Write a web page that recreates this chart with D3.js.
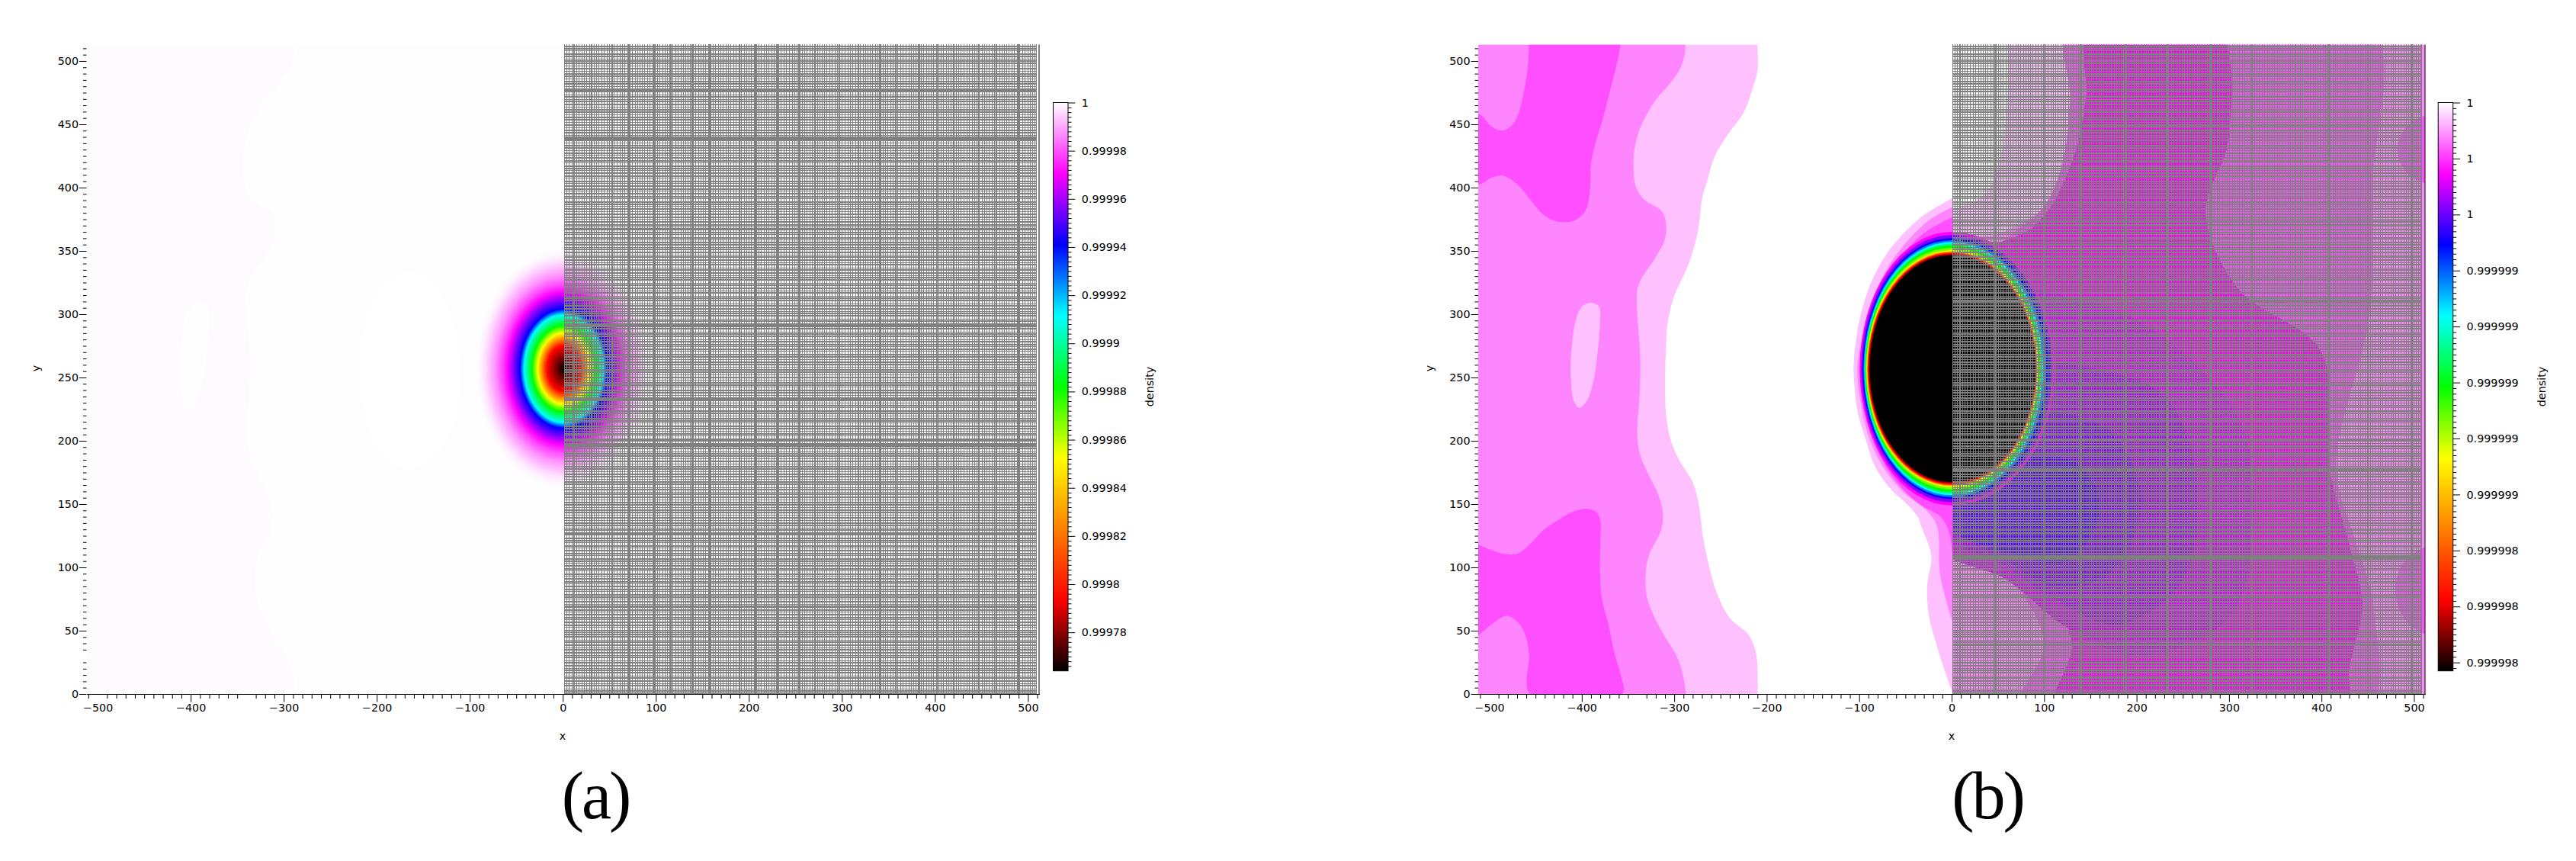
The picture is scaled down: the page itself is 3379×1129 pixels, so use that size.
<!DOCTYPE html>
<html>
<head>
<meta charset="utf-8">
<script src="https://cdn.jsdelivr.net/npm/d3@7"></script>
<style>
  body { margin: 0; background: #fff; }
  text { font-family: "DejaVu Sans", sans-serif; font-size: 14.3px; fill: #000; }
  .caption { font-family: "Liberation Serif", serif; font-size: 88px; letter-spacing: -3px; }
</style>
</head>
<body>
<svg id="chart" width="3379" height="1129"></svg>
<script>
// colour bar: white, magenta, blue, cyan, green, yellow, orange, red, black
var rampColors = ["#ffffff", "#ff00ff", "#0000ff", "#00ffff", "#00ff00", "#ffff00", "#ff8000", "#ff0000", "#000000"];

var xMajor = [-500, -400, -300, -200, -100, 0, 100, 200, 300, 400, 500];
var yMajor = [0, 50, 100, 150, 200, 250, 300, 350, 400, 450, 500];
var skipMinorX = [-340, 140];
var skipMinorY = [30];

var densityTicksA = [1, 0.99998, 0.99996, 0.99994, 0.99992, 0.9999, 0.99988, 0.99986, 0.99984, 0.99982, 0.9998, 0.99978];
var densityDomainA = [0.999764, 1];
var densityTicksB = [1, 0.9999998, 0.9999996, 0.9999994, 0.9999992, 0.999999, 0.9999988, 0.9999986, 0.9999984, 0.9999982, 0.999998];
var densityDomainB = [0.99999797, 1];

// blob of panel a, radius (data units) against density
var blobRadius = [0, 18, 23, 28, 34, 42.5, 47, 60, 66, 74, 83, 96];
var blobDensity = [0.999764, 0.999794, 0.999823, 0.999853, 0.999882, 0.999911, 0.999941, 0.99997, 0.999979, 0.999988, 0.999995, 1];

// rings of panel b, fraction along the colour bar and half widths (left, right, vertical)
var ringLevel = [0.125, 0.1875, 0.25, 0.3125, 0.375, 0.4375, 0.5, 0.5625, 0.625, 0.6875, 0.75, 0.8125, 0.875, 0.9375, 1];
var ringLeft = [99.5, 97.8, 96.2, 95.3, 94.5, 94, 93.4, 92.7, 92, 91.6, 91.2, 90.8, 90.4, 89.5, 88.5];
var ringRight = [112, 109, 106, 102, 99, 97.5, 96, 94.7, 93.5, 93, 92.5, 92, 91.5, 91, 90.7];
var ringTall = [108, 105.5, 103, 101.5, 100, 98.7, 97.4, 95.4, 93.4, 92.9, 92.4, 91.9, 91.4, 90.5, 89.5];
var ringCenter = [0, 257];

// contour lines of the left half, panel b (also the faint ones in panel a)
var midLightLine = [[-288,513],[-289,504],[-295,492],[-306,481],[-318,471],[-328,460],[-337.5,446],[-343,430],[-344,416],[-341.6,401],[-333,391],[-313,381],[-308.6,369],[-311,357],[-321,344],[-337.7,325],[-340.4,316],[-339.4,294],[-336.7,264],[-337.7,233],[-340,208],[-337.7,191],[-327.6,173],[-317.5,158],[-312.4,144],[-314,130],[-327.6,109],[-331,93],[-329.3,76],[-321,60],[-309,44],[-297.3,30],[-290.6,15],[-287.2,0]];
var lightWhiteLine = [[-210,513],[-210,492],[-215,479],[-224.5,460],[-241,443],[-256,425],[-264.5,405],[-270,391],[-274,367],[-283.8,341],[-300.7,313],[-307.4,292],[-309,271],[-310,250],[-309,222],[-304,201],[-294,184],[-280.5,168],[-273.8,151],[-268.7,123],[-262,100],[-253.6,79],[-240,60],[-220,47],[-211.5,32],[-209.8,0]];
var islandLine = [[-389.8,309],[-381.4,306],[-380.4,292],[-383,269],[-388,245],[-394.9,231],[-402.6,226],[-408.4,231],[-411.7,248],[-411,273],[-405,299],[-398.3,307]];
var darkTopLine = [[-457,513],[-458,498],[-461.5,480],[-467,462],[-472.5,452],[-479.4,447],[-487.6,445],[-497,448],[-512,458]];
var darkTopLine2 = [[-512,403],[-497,408],[-486,409.5],[-476.6,406.5],[-465.6,399.5],[-454.6,389.5],[-441,378.4],[-427,373.4],[-410.5,373.4],[-399.5,378.4],[-394,385.4],[-391,399.5],[-390,419.6],[-385.7,433.6],[-377.5,453.7],[-369,477.8],[-362,498],[-358,513]];
var darkLowLine = [[-512,118],[-499,114],[-482.4,110.5],[-469,111],[-455.5,118.7],[-442,129],[-428.5,136],[-408,144.4],[-393,146.3],[-384.8,144],[-380,137.4],[-380,121],[-380.4,97.6],[-378,74],[-371.3,55.4],[-364.6,32],[-358,15.5],[-356.2,0]];
var darkLowLine2 = [[-455.8,0],[-457,32],[-462,48.3],[-469,56.5],[-480.7,61.7],[-492.5,57.7],[-512,46]];
var bulgeLight = [[1.5,392],[-27.5,379.5],[-41.2,371.5],[-55,361.4],[-68.7,349.4],[-82.4,332.3],[-92,315.3],[-100.3,293.2],[-105.8,263],[-105.8,251],[-101.7,223],[-92,199],[-82.4,179],[-65.9,162],[-46.7,148.8],[-35.7,138.8],[-33,132.7],[-22,109.3],[-26.4,85.8],[-24.7,62.4],[-16.3,39],[-6.2,15.5],[1.5,0]];
var bulgeMid = [[1.5,385],[-25,374],[-50,356],[-68,338],[-85,312],[-97,280],[-102,257],[-98,228],[-88,200],[-72,177],[-50,158],[-30,147],[-17,135],[-14,125],[-13,97],[-6,74],[1.5,56]];
var bulgeDark = [[1.5,377],[-30,364],[-55,345],[-75,322],[-90,295],[-99,257],[-93,220],[-80,192],[-60,168],[-35,150],[-12,140],[-3,128],[1.5,105]];

// faint oval of panel a
var ovalLine = [[-165,334],[-135,320],[-115,285],[-111,256],[-115,220],[-135,190],[-165,178],[-195,190],[-213,222],[-217,256],[-213,290],[-195,320]];

// right half of panel b, level along the colour bar and outline
var rightLevels = [0.031, 0, 0.087, 0.125, 0.14, 0.16, 0.18, 0.205, 0.087, 0.087];
var rightShapes = [
  [[-20,530],[128,530],[133,470],[126,420],[100,385],[70,370],[40,362],[-20,375]],
  [[-20,530],[50,530],[58,450],[36,395],[-20,385]],
  [[128,530],[452,530],[455,400],[452,300],[416,180],[438,118],[456,70],[446,-20],[70,-20],[100,40],[65,90],[20,118],[-20,130],[-20,300],[60,360],[100,385],[120,420],[128,470]],
  [[150,530],[285,530],[300,440],[275,380],[310,320],[400,270],[408,180],[430,118],[444,70],[430,20],[424,-20],[110,-20],[130,40],[100,80],[40,120],[-20,135],[-20,330],[90,370],[130,420],[145,470]],
  [[-20,310],[150,310],[250,270],[315,210],[325,120],[300,60],[200,30],[120,55],[60,90],[-20,120]],
  [[-20,270],[120,262],[230,235],[265,170],[250,90],[180,55],[110,75],[60,100],[-20,135]],
  [[-20,225],[100,225],[175,205],[205,150],[170,95],[110,85],[60,105],[-20,145]],
  [[-20,195],[70,190],[140,180],[160,145],[125,105],[70,110],[-20,140]],
  [[530,458],[495,450],[482,430],[495,410],[530,403]],
  [[530,118],[490,105],[480,80],[495,55],[530,46]]
];

var meshXSteps = [2.5, 2.5, 3.3, 2.5, 2.5, 2.5, 3.3, 2.5, 2.5, 3.3, 2.5, 2.5, 2.5, 2.5, 3.3, 2.5, 3.3, 2.5];
var meshYSteps = [1.8, 1.8, 2.4, 1.8, 1.8, 2.4, 1.8, 2.4, 1.8, 1.8, 1.8, 2.4, 1.8, 2.4];
var meshYWidths = [2, 2, 1, 2, 1, 2, 2, 1, 2, 2, 1];
var meshBandsXA = [12, 31, 53, 71, 98, 116, 139, 158, 190, 207, 231, 254, 271, 297, 318, 341, 358, 383, 402, 420, 447, 466, 490];
var meshBandsYA = [476, 438, 367, 292, 233, 197, 127, 69];
var meshBandsXB = [9, 47, 100, 139, 188, 233, 280, 325, 372, 408, 450, 498];
var meshBandsYB = [449, 373, 310, 176, 108, 39];

var svg = d3.select("#chart");
var defs = svg.append("defs");
var yTop = 58.4, yBottom = 910;

var rampLevel = d3.scaleLinear().domain(d3.range(rampColors.length).map(function(i) { return i / 8; })).range(rampColors);

function drawAxes(g, x, y) {
  var xMinor = d3.range(-510, 511, 10).filter(function(d) { return d % 100 != 0 && skipMinorX.indexOf(d) < 0; });
  var yMinor = d3.range(5, 511, 5).filter(function(d) { return d % 50 != 0 && skipMinorY.indexOf(d) < 0; });
  var xAxis = g.append("g").attr("transform", "translate(0," + yBottom + ")")
    .call(d3.axisBottom(x).tickValues(xMajor).tickSize(10.5).tickPadding(2).tickSizeOuter(0));
  xAxis.selectAll(".tick").filter(function(d) { return d == -500; }).select("line").remove();
  g.append("g").attr("transform", "translate(0," + yBottom + ")")
    .call(d3.axisBottom(x).tickValues(xMinor).tickSize(6).tickFormat("").tickSizeOuter(0));
  var yAxis = g.append("g").attr("transform", "translate(" + x.range()[0] + ",0)")
    .call(d3.axisLeft(y).tickValues(yMajor).tickSize(9.5).tickPadding(1));
  yAxis.select(".domain").remove();
  var yAxis2 = g.append("g").attr("transform", "translate(" + x.range()[0] + ",0)")
    .call(d3.axisLeft(y).tickValues(yMinor).tickSize(4.5).tickFormat(""));
  yAxis2.select(".domain").remove();
  g.selectAll("g").attr("font-family", null).attr("font-size", null);
  g.append("line").attr("x1", x.range()[1]).attr("x2", x.range()[1]).attr("y1", yTop).attr("y2", yBottom).attr("stroke", "#000");
}

function drawColorBar(g, id, left, domain, ticks, labelX) {
  var barWidth = 19.5;
  var scale = d3.scaleLinear().domain(domain).range([879.7, 134.5]);
  var grad = defs.append("linearGradient").attr("id", id).attr("x1", 0).attr("x2", 0).attr("y1", 1).attr("y2", 0);
  // top of the gradient is white, so walk the colours from the bottom
  rampColors.slice().reverse().forEach(function(c, i) {
    grad.append("stop").attr("offset", i / 8).attr("stop-color", c);
  });
  g.append("rect").attr("x", left).attr("y", 134.5).attr("width", barWidth).attr("height", 745.2)
    .attr("fill", "url(#" + id + ")").attr("stroke", "#000");
  var step = (ticks[0] - ticks[1]) / 10;
  var minor = [];
  ticks.forEach(function(t) { for (var k = 1; k < 10; k++) { if (t - k * step > domain[0]) minor.push(t - k * step); } });
  var axis = g.append("g").attr("transform", "translate(" + (left + barWidth) + ",0)")
    .call(d3.axisRight(scale).tickValues(ticks).tickSize(9.3).tickPadding(8.5).tickFormat(function(d) { return String(+d.toPrecision(6)); }));
  axis.select(".domain").remove();
  var axis2 = g.append("g").attr("transform", "translate(" + (left + barWidth) + ",0)")
    .call(d3.axisRight(scale).tickValues(minor).tickSize(4.5).tickFormat(""));
  axis2.select(".domain").remove();
  g.selectAll("g").attr("font-family", null).attr("font-size", null);
  g.append("text").attr("transform", "translate(" + labelX + ",507) rotate(-90)")
    .attr("text-anchor", "middle").attr("dy", ".32em").text("density");
}

function drawMesh(g, x, y, xEnd, bandsX, bandsY) {
  var xs = [], ys = [], v, i;
  for (v = 1.5, i = 0; v <= xEnd; v += meshXSteps[i++ % meshXSteps.length]) xs.push(v);
  for (v = 0.5, i = 0; v <= 513; v += meshYSteps[i++ % meshYSteps.length]) ys.push(v);
  var mesh = g.append("g").attr("stroke", "#808080").attr("shape-rendering", "crispEdges");
  mesh.selectAll(".mx").data(xs.concat([xEnd])).enter().append("line").attr("class", "mx")
    .attr("x1", function(d) { return x(d); }).attr("x2", function(d) { return x(d); })
    .attr("y1", yTop).attr("y2", yBottom).attr("stroke-width", 1);
  mesh.selectAll(".my").data(ys).enter().append("line").attr("class", "my")
    .attr("x1", x(1.5)).attr("x2", x(xEnd))
    .attr("y1", function(d) { return y(d); }).attr("y2", function(d) { return y(d); })
    .attr("stroke-width", function(d, j) { return meshYWidths[j % meshYWidths.length]; });
  mesh.selectAll(".bx").data(bandsX).enter().append("line").attr("class", "bx")
    .attr("x1", function(d) { return x(d); }).attr("x2", function(d) { return x(d); })
    .attr("y1", yTop).attr("y2", yBottom).attr("stroke-width", 2);
  mesh.selectAll(".by").data(bandsY).enter().append("line").attr("class", "by")
    .attr("x1", x(1.5)).attr("x2", x(xEnd))
    .attr("y1", function(d) { return y(d); }).attr("y2", function(d) { return y(d); }).attr("stroke-width", 3);
}

function makeScales(range) {
  return {
    x: d3.scaleLinear().domain([-512, 512]).range(range),
    y: d3.scaleLinear().domain([0, 513]).range([yBottom, yTop])
  };
}

function plotClip(id, x, from) {
  defs.append("clipPath").attr("id", id).append("rect")
    .attr("x", x(from)).attr("y", yTop).attr("width", x.range()[1] - x(from)).attr("height", yBottom - yTop);
}

// contour path: smooth line through the read points, closed along the plot edge
function contourPath(x, y, line, corners) {
  var curve = d3.line().x(function(d) { return x(d[0]); }).y(function(d) { return y(d[1]); }).curve(d3.curveCatmullRom.alpha(0.5));
  var p = curve(line);
  (corners || []).forEach(function(c) { p += "L" + x(c[0]) + "," + y(c[1]); });
  return p + "Z";
}
function blobPath(x, y, line) {
  var curve = d3.line().x(function(d) { return x(d[0]); }).y(function(d) { return y(d[1]); }).curve(d3.curveCatmullRomClosed.alpha(0.5));
  return curve(line);
}

// ---------- panel a ----------
var a = makeScales([113.5, 1363]);
var panelA = svg.append("g");
plotClip("clipA", a.x, -512);
var fieldA = panelA.append("g").attr("clip-path", "url(#clipA)");
fieldA.append("rect").attr("x", a.x(-512)).attr("y", yTop).attr("width", a.x(1.5) - a.x(-512)).attr("height", yBottom - yTop).attr("fill", "#fefdff");
fieldA.append("path").attr("d", contourPath(a.x, a.y, midLightLine, [[-512, 0], [-512, 513]])).attr("fill", "#fdfbfe");
fieldA.append("path").attr("d", blobPath(a.x, a.y, islandLine)).attr("fill", "#fefdff");
fieldA.append("path").attr("d", blobPath(a.x, a.y, ovalLine)).attr("fill", "#ffffff");

var colorA = d3.scaleLinear().domain(densityDomainA).range([1, 0]);
var blobGrad = defs.append("radialGradient").attr("id", "blobA");
var blobEnd = blobRadius[blobRadius.length - 1];
blobRadius.forEach(function(r, i) {
  blobGrad.append("stop").attr("offset", r / blobEnd)
    .attr("stop-color", rampLevel(colorA(blobDensity[i])))
    .attr("stop-opacity", i == blobRadius.length - 1 ? 0 : 1);
});
fieldA.append("ellipse").attr("cx", a.x(1)).attr("cy", a.y(257))
  .attr("rx", a.x(blobEnd) - a.x(0)).attr("ry", a.y(0) - a.y(blobEnd)).attr("fill", "url(#blobA)");
drawMesh(panelA.append("g"), a.x, a.y, 508.8, meshBandsXA, meshBandsYA);
drawAxes(panelA.append("g"), a.x, a.y);
drawColorBar(panelA.append("g"), "barA", 1381.5, densityDomainA, densityTicksA, 1508);
panelA.append("text").attr("x", 738).attr("y", 965).attr("text-anchor", "middle").attr("dy", ".32em").text("x");
panelA.append("text").attr("transform", "translate(47,483) rotate(-90)").attr("text-anchor", "middle").attr("dy", ".32em").text("y");
panelA.append("text").attr("class", "caption").attr("x", 781).attr("y", 1072.7).attr("text-anchor", "middle").text("(a)");

// ---------- panel b ----------
var b = makeScales([1939, 3181]);
var panelB = svg.append("g");
plotClip("clipB", b.x, -512);
plotClip("clipBRight", b.x, 1.5);
var fieldB = panelB.append("g").attr("clip-path", "url(#clipB)");
function addB(parent, d, level) { parent.append("path").attr("d", d).attr("fill", rampLevel(level)); }
addB(fieldB, contourPath(b.x, b.y, lightWhiteLine, [[-512, 0], [-512, 513]]), 0.031);
addB(fieldB, contourPath(b.x, b.y, midLightLine, [[-512, 0], [-512, 513]]), 0.06);
addB(fieldB, blobPath(b.x, b.y, islandLine), 0.031);
addB(fieldB, contourPath(b.x, b.y, darkTopLine.concat(darkTopLine2)), 0.087);
addB(fieldB, contourPath(b.x, b.y, darkLowLine.concat(darkLowLine2)), 0.087);
addB(fieldB, contourPath(b.x, b.y, bulgeLight), 0.031);
addB(fieldB, contourPath(b.x, b.y, bulgeMid), 0.06);
addB(fieldB, contourPath(b.x, b.y, bulgeDark), 0.087);

var rightB = fieldB.append("g").attr("clip-path", "url(#clipBRight)");
rightB.append("rect").attr("x", b.x(1.5)).attr("y", yTop).attr("width", b.x(512) - b.x(1.5)).attr("height", yBottom - yTop).attr("fill", rampLevel(0.06));
rightShapes.forEach(function(s, i) {
  addB(rightB, blobPath(b.x, b.y, s), rightLevels[i]);
});

ringLevel.forEach(function(level, i) {
  var cx = b.x(ringCenter[0]), cy = b.y(ringCenter[1]);
  var rL = b.x(0) - b.x(-ringLeft[i]), rR = b.x(ringRight[i]) - b.x(0), ry = b.y(0) - b.y(ringTall[i]);
  fieldB.append("path")
    .attr("d", "M" + cx + "," + (cy - ry) + "A" + rL + "," + ry + " 0 0 0 " + cx + "," + (cy + ry) +
      "A" + rR + "," + ry + " 0 0 0 " + cx + "," + (cy - ry) + "Z")
    .attr("fill", rampLevel(level));
});
drawMesh(panelB.append("g"), b.x, b.y, 508, meshBandsXB, meshBandsYB);
drawAxes(panelB.append("g"), b.x, b.y);
drawColorBar(panelB.append("g"), "barB", 3198.2, densityDomainB, densityTicksB, 3334);
panelB.append("text").attr("x", 2560).attr("y", 965).attr("text-anchor", "middle").attr("dy", ".32em").text("x");
panelB.append("text").attr("transform", "translate(1875,483) rotate(-90)").attr("text-anchor", "middle").attr("dy", ".32em").text("y");
panelB.append("text").attr("class", "caption").attr("x", 2607).attr("y", 1072.7).attr("text-anchor", "middle").text("(b)");
</script>
</body>
</html>
